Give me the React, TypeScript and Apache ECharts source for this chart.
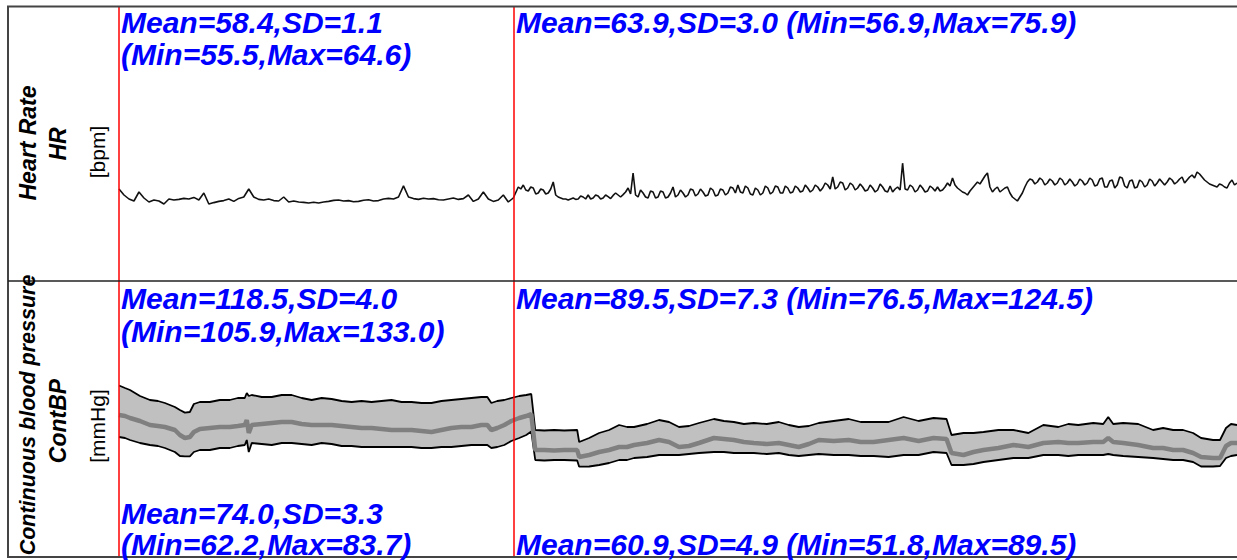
import React, { useEffect, useRef } from "react";
import * as echarts from "echarts";

// Heart rate [bpm]: baseline sampled every 0.25 min, task every 0.125 min
const HR_BASE_STEP = 0.25;
const HR_TASK_START = 20;
const HR_TASK_STEP = 0.125;
const hrBaseline = [
  63.0, 60.0, 58.0, 57.0, 61.5, 58.5, 56.5, 57.5, 57.0, 55.5,
  58.0, 57.5, 57.8, 58.3, 58.0, 58.8, 57.5, 61.0, 55.5, 56.2,
  56.8, 57.2, 58.0, 56.8, 58.3, 59.0, 63.0, 59.0, 57.8, 57.5,
  58.0, 57.2, 57.0, 59.0, 56.5, 57.0, 56.5, 56.3, 56.0, 56.4,
  56.0, 56.5, 56.8, 57.3, 57.5, 57.0, 57.2, 56.6, 56.8, 57.4,
  57.6, 57.0, 57.2, 58.0, 58.3, 58.0, 59.0, 64.6, 59.0, 58.2,
  57.8, 58.4, 58.0, 58.2, 57.6, 57.5, 58.0, 58.5, 57.8, 58.2,
  60.0, 56.8, 58.0, 61.5, 58.0, 56.8, 57.5, 60.0, 56.5, 58.5,
];
const hrTask = [
  64.0, 63.0, 65.0, 62.5, 62.0, 64.0, 63.5, 60.5, 61.0, 63.0,
  62.5, 60.5, 61.0, 63.0, 66.5, 60.0, 59.0, 58.5, 58.0, 58.0,
  57.5, 58.0, 58.5, 57.8, 58.0, 59.5, 59.0, 58.0, 60.0, 58.0,
  58.5, 60.0, 59.5, 58.0, 58.5, 60.0, 59.2, 58.2, 59.8, 61.0,
  60.0, 59.0, 60.2, 61.5, 63.5, 60.5, 71.0, 60.0, 59.0, 62.5,
  61.0, 59.0, 58.5, 62.0, 61.5, 58.5, 59.0, 62.0, 61.5, 58.5,
  59.0, 61.0, 64.0, 59.0, 60.0, 62.5, 61.0, 59.0, 60.0, 63.0,
  62.5, 59.5, 60.5, 63.0, 61.5, 59.5, 60.0, 63.5, 62.5, 59.5,
  60.0, 63.0, 62.5, 60.0, 61.0, 64.0, 63.5, 61.0, 65.0, 61.5,
  61.0, 64.5, 63.5, 60.5, 60.0, 63.5, 62.5, 60.0, 61.0, 64.5,
  63.5, 60.5, 61.5, 64.5, 64.0, 61.0, 61.0, 64.5, 63.5, 61.0,
  61.5, 64.5, 63.5, 61.5, 62.0, 65.0, 63.5, 61.5, 62.5, 65.0,
  64.0, 62.0, 63.5, 66.0, 65.0, 63.0, 69.0, 63.0, 64.0, 66.5,
  66.0, 62.5, 63.5, 66.0, 65.0, 62.5, 63.5, 65.5, 64.0, 62.0,
  62.5, 65.0, 63.5, 61.5, 62.5, 65.5, 64.0, 62.0, 61.5, 64.5,
  61.5, 63.0, 64.0, 62.5, 75.9, 63.0, 62.5, 65.0, 64.0, 61.5,
  62.5, 65.0, 63.5, 61.5, 62.0, 64.5, 63.5, 62.0, 64.0, 62.0,
  62.5, 64.0, 66.0, 64.5, 68.5, 65.0, 63.5, 62.5, 61.5, 61.0,
  60.0, 62.0, 63.5, 65.0, 66.5, 65.5, 67.5, 69.5, 71.0, 64.0,
  61.5, 63.0, 64.0, 61.5, 62.5, 63.5, 64.0, 61.0, 59.0, 58.0,
  57.0, 59.0, 61.0, 64.0, 66.5, 68.0, 67.5, 65.5, 66.5, 68.5,
  67.5, 65.0, 66.0, 68.0, 67.0, 65.0, 66.0, 68.5, 67.5, 65.0,
  66.0, 68.0, 66.5, 64.5, 65.5, 68.0, 67.0, 65.0, 66.0, 68.5,
  67.5, 64.5, 65.0, 68.0, 68.5, 64.0, 64.0, 67.0, 67.5, 63.5,
  65.0, 69.0, 68.5, 64.5, 63.5, 67.0, 67.5, 63.5, 64.0, 67.5,
  66.5, 64.0, 65.0, 68.0, 67.0, 64.5, 66.0, 68.0, 66.5, 65.0,
  66.5, 68.5, 67.5, 65.5, 66.5, 68.0, 69.0, 66.0, 67.5, 69.0,
  70.0, 68.5, 71.5, 70.5, 69.0, 67.5, 66.5, 65.5, 65.0, 64.5,
  64.0, 65.5, 65.0, 64.0, 63.5, 66.0, 67.5, 65.0,
  66.0,
];

// Continuous blood pressure [mmHg], beat-averaged breakpoints
const bpMinutes = [
  0, 0.3, 0.55, 1.05, 1.55, 1.95, 2.3, 2.8, 3.05, 3.3,
  3.55, 3.75, 4.05, 4.55, 5.05, 5.55, 5.95, 6.3, 6.4, 6.5,
  6.65, 7.15, 7.65, 8.15, 8.65, 9.15, 9.65, 10.15, 10.65, 11.15,
  11.65, 12.15, 12.65, 13.15, 13.65, 14.15, 14.65, 15.15, 15.65, 16.15,
  16.65, 17.15, 17.65, 18.15, 18.45, 18.65, 18.95, 19.3, 19.65, 20.05,
  20.4, 20.65, 20.85, 21.3, 21.8, 22.3, 22.95, 23.05, 23.55, 24.05,
  24.55, 25.05, 25.45, 25.8, 26.45, 27.05, 27.55, 28.05, 28.55, 29.05,
  29.8, 30.3, 30.8, 31.3, 31.8, 32.45, 33.05, 33.55, 34.05, 34.55,
  35.05, 35.8, 36.55, 37.15, 37.8, 38.55, 39.3, 40.05, 40.8, 41.45,
  41.7, 42.3, 42.8, 43.3, 44.05, 44.8, 45.55, 46.3, 47.05, 47.55,
  48.05, 48.8, 49.3, 49.55, 49.8, 50.3, 51.05, 51.8, 52.3, 52.8,
  53.3, 53.8, 54.2, 54.8, 55.15, 55.45, 55.7, 56,
];
const bpSystolic = [
  133.0, 130.5, 128.5, 122.5, 118.5, 117.5, 115.5, 111.5, 108.5, 105.9,
  106.5, 114.5, 116.5, 116.5, 118.5, 118.5, 120.5, 120.5, 125.5, 122.5,
  123.5, 121.5, 121.5, 123.5, 123.5, 120.5, 118.5, 120.5, 119.5, 117.5,
  116.5, 117.5, 116.5, 117.5, 118.5, 116.5, 116.5, 115.5, 115.5, 117.5,
  118.5, 119.5, 120.5, 121.5, 121.5, 115.5, 117.5, 118.5, 120.5, 122.5,
  123.5, 124.5, 88.5, 88.0, 88.5, 88.0, 88.5, 76.5, 80.5, 85.5,
  88.5, 93.5, 91.5, 91.5, 94.5, 98.5, 96.5, 91.5, 92.5, 95.5,
  99.5, 97.5, 96.5, 94.5, 95.5, 94.5, 96.5, 93.5, 91.5, 92.5,
  95.5, 97.5, 99.5, 96.5, 96.5, 96.5, 101.5, 97.5, 100.5, 99.5,
  83.5, 85.5, 85.5, 86.5, 88.5, 88.5, 85.5, 93.5, 91.5, 94.5,
  93.5, 95.5, 94.5, 101.5, 94.5, 95.5, 94.5, 88.5, 90.5, 88.5,
  88.5, 85.5, 80.5, 78.5, 78.5, 90.5, 94.5, 93.5,
];
const bpMean = [
  103.5, 102.5, 100.5, 97.5, 93.5, 92.5, 91.5, 88.5, 83.5, 80.5,
  81.5, 86.5, 89.5, 90.5, 91.5, 91.5, 92.5, 93.5, 98.5, 85.5,
  93.5, 94.5, 95.5, 96.5, 96.5, 94.5, 93.5, 93.5, 93.5, 92.5,
  91.5, 90.5, 90.5, 89.5, 88.5, 88.5, 88.5, 87.5, 86.5, 88.5,
  90.5, 91.5, 91.5, 93.5, 93.5, 88.5, 90.5, 93.5, 97.5, 100.5,
  102.5, 104.5, 68.5, 68.5, 68.0, 68.5, 68.5, 61.5, 63.5, 66.5,
  68.5, 71.5, 71.5, 73.5, 75.5, 78.5, 76.5, 71.5, 72.5, 75.5,
  80.5, 79.5, 78.5, 76.5, 75.5, 74.5, 75.5, 73.5, 71.5, 74.5,
  78.5, 77.5, 78.5, 76.5, 76.5, 78.5, 80.5, 77.5, 80.5, 79.5,
  65.5, 63.5, 66.5, 68.5, 70.5, 73.5, 71.5, 75.5, 76.5, 75.5,
  75.5, 76.5, 76.5, 80.5, 76.5, 75.5, 73.5, 70.5, 70.5, 68.5,
  68.5, 65.5, 61.5, 60.5, 60.5, 72.5, 75.5, 75.5,
];
const bpDiastolic = [
  81.5, 80.5, 78.5, 75.5, 73.5, 72.5, 70.5, 66.5, 62.5, 62.2,
  62.2, 66.5, 68.5, 68.5, 70.5, 70.5, 72.5, 73.5, 78.5, 66.5,
  75.5, 74.5, 73.5, 75.5, 75.5, 74.5, 73.5, 75.5, 74.5, 72.5,
  72.5, 71.5, 71.5, 71.5, 71.5, 71.5, 71.5, 70.5, 70.5, 71.5,
  71.5, 72.5, 73.5, 73.5, 73.5, 70.5, 71.5, 73.5, 77.5, 80.5,
  83.5, 87.0, 58.5, 58.0, 58.5, 58.5, 58.0, 51.8, 52.0, 53.5,
  55.5, 58.5, 58.5, 60.5, 61.5, 63.5, 63.5, 63.5, 64.5, 65.5,
  66.5, 66.5, 65.5, 65.5, 65.5, 64.5, 65.5, 63.5, 62.5, 63.5,
  64.5, 63.5, 63.5, 62.5, 62.5, 61.5, 63.5, 63.5, 66.5, 65.5,
  53.5, 53.5, 54.5, 56.5, 58.5, 60.5, 60.5, 63.5, 63.5, 62.5,
  63.5, 63.5, 63.5, 64.5, 63.5, 62.5, 61.5, 60.5, 59.5, 58.5,
  58.5, 56.5, 52.0, 52.0, 52.5, 60.5, 62.5, 63.5,
];

// Phase boundaries [min] and per-phase statistics
const phaseStarts = [0, 19.75];
const hrStats = [
  { mean: 58.4, sd: 1.1, min: 55.5, max: 64.6 },
  { mean: 63.9, sd: 3.0, min: 56.9, max: 75.9 },
];
const sysStats = [
  { mean: 118.5, sd: 4.0, min: 105.9, max: 133.0 },
  { mean: 89.5, sd: 7.3, min: 76.5, max: 124.5 },
];
const diaStats = [
  { mean: 74.0, sd: 3.3, min: 62.2, max: 83.7 },
  { mean: 60.9, sd: 4.9, min: 51.8, max: 89.5 },
];

type Stat = { mean: number; sd: number; min: number; max: number };
const f1 = (v: number) => v.toFixed(1);
const meanText = (s: Stat) => `Mean=${f1(s.mean)},SD=${f1(s.sd)}`;
const rangeText = (s: Stat) => `(Min=${f1(s.min)},Max=${f1(s.max)})`;

const STAT_FONT = 'italic bold 30px "Liberation Sans", Arial, sans-serif';
const LABEL_FONT = 'italic bold 23px "Liberation Sans", Arial, sans-serif';
const LONG_LABEL_FONT = 'italic bold 21.5px "Liberation Sans", Arial, sans-serif';
const UNIT_FONT = '21px "Liberation Sans", Arial, sans-serif';
const BLUE = "#0000ff";

function statText(text: string, x: number, y: number) {
  return {
    type: "text",
    x,
    y,
    z: 100,
    silent: true,
    style: {
      text,
      font: STAT_FONT,
      fill: BLUE,
      align: "left",
      verticalAlign: "middle",
      textAlign: "left",
      textVerticalAlign: "middle",
    },
  };
}

function sideLabel(text: string, x: number, y: number, font: string) {
  return {
    type: "text",
    x,
    y,
    rotation: Math.PI / 2,
    z: 100,
    silent: true,
    style: {
      text,
      font,
      fill: "#000",
      align: "center",
      verticalAlign: "middle",
      textAlign: "center",
      textVerticalAlign: "middle",
    },
  };
}

export default function App() {
  const ref = useRef<HTMLDivElement>(null);

  useEffect(() => {
    if (!ref.current) return;
    const chart = echarts.init(ref.current, undefined, { renderer: "svg" });

    const hrData = [
      ...hrBaseline.map((v, i) => [i * HR_BASE_STEP, v]),
      ...hrTask.map((v, i) => [HR_TASK_START + i * HR_TASK_STEP, v]),
    ];
    const toPairs = (vals: number[]) => vals.map((v, i) => [bpMinutes[i], v]);

    const phaseLines = {
      silent: true,
      symbol: ["none", "none"],
      label: { show: false },
      lineStyle: { color: "#ff0000", type: "solid", width: 1.5 },
      data: phaseStarts.map((t) => ({ xAxis: t })),
    };

    chart.setOption({
      animation: false,
      backgroundColor: "#ffffff",
      grid: [
        { left: 119, top: 7, width: 1120, height: 274, show: false },
        { left: 119, top: 281, width: 1120, height: 276, show: false },
      ],
      xAxis: [
        { type: "value", gridIndex: 0, min: 0, max: 56, show: false },
        { type: "value", gridIndex: 1, min: 0, max: 56, show: false },
      ],
      yAxis: [
        { type: "value", gridIndex: 0, min: 17, max: 154, show: false },
        { type: "value", gridIndex: 1, min: -38.5, max: 237.5, show: false },
      ],
      series: [
        {
          name: "HR",
          type: "line",
          xAxisIndex: 0,
          yAxisIndex: 0,
          data: hrData,
          showSymbol: false,
          lineStyle: { color: "#111", width: 1.6 },
          markLine: phaseLines,
          z: 3,
        },
        {
          name: "Systolic",
          type: "line",
          xAxisIndex: 1,
          yAxisIndex: 1,
          data: toPairs(bpSystolic),
          showSymbol: false,
          lineStyle: { color: "#000", width: 1.8 },
          areaStyle: { color: "#c0c0c0", opacity: 1, origin: "start" },
          z: 2,
        },
        {
          name: "Diastolic",
          type: "line",
          xAxisIndex: 1,
          yAxisIndex: 1,
          data: toPairs(bpDiastolic),
          showSymbol: false,
          lineStyle: { color: "#000", width: 1.8 },
          areaStyle: { color: "#ffffff", opacity: 1, origin: "start" },
          z: 3,
        },
        {
          name: "Mean",
          type: "line",
          xAxisIndex: 1,
          yAxisIndex: 1,
          data: toPairs(bpMean),
          showSymbol: false,
          lineStyle: { color: "#808080", width: 4.5 },
          markLine: phaseLines,
          z: 4,
        },
      ],
      graphic: [
        {
          type: "rect",
          z: 100,
          silent: true,
          shape: { x: 8, y: 6.5, width: 1240, height: 550.5 },
          style: { fill: "none", stroke: "#444", lineWidth: 2 },
        },
        {
          type: "line",
          z: 100,
          silent: true,
          shape: { x1: 8, y1: 281, x2: 1240, y2: 281 },
          style: { stroke: "#222", lineWidth: 1.5 },
        },
        // Heart rate row
        sideLabel("Heart Rate", 28, 143, LABEL_FONT),
        sideLabel("HR", 58, 144, LABEL_FONT),
        sideLabel("[bpm]", 97, 152, UNIT_FONT),
        statText(meanText(hrStats[0]), 121, 22),
        statText(rangeText(hrStats[0]), 121, 54),
        statText(`${meanText(hrStats[1])} ${rangeText(hrStats[1])}`, 516, 22),
        // Blood pressure row
        sideLabel("Continuous blood pressure", 28, 415, LONG_LABEL_FONT),
        sideLabel("ContBP", 58, 421, LABEL_FONT),
        sideLabel("[mmHg]", 97, 426, UNIT_FONT),
        statText(meanText(sysStats[0]), 121, 298),
        statText(rangeText(sysStats[0]), 121, 331),
        statText(`${meanText(sysStats[1])} ${rangeText(sysStats[1])}`, 516, 298),
        statText(meanText(diaStats[0]), 121, 513),
        statText(rangeText(diaStats[0]), 121, 544),
        statText(`${meanText(diaStats[1])} ${rangeText(diaStats[1])}`, 516, 544),
      ],
    });

    return () => chart.dispose();
  }, []);

  return (
    <div
      ref={ref}
      style={{
        position: "fixed",
        left: 0,
        top: 0,
        width: 1237,
        height: 560,
        background: "#fff",
      }}
    />
  );
}
